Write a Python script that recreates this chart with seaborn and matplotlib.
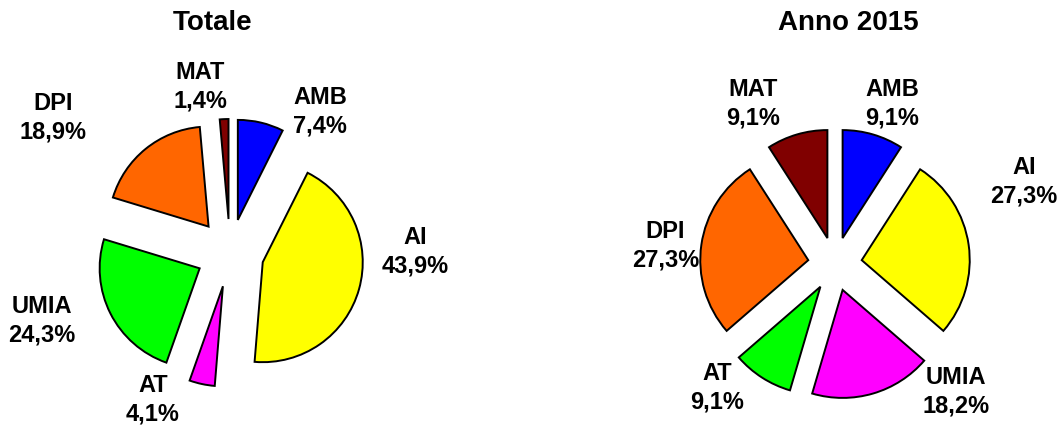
import matplotlib
matplotlib.use("Agg")
import matplotlib.pyplot as plt
import seaborn as sns

# dati
cat_totale = ["AMB", "AI", "AT", "UMIA", "DPI", "MAT"]
val_totale = [7.4, 43.9, 4.1, 24.3, 18.9, 1.4]

cat_2015 = ["AMB", "AI", "UMIA", "AT", "DPI", "MAT"]
val_2015 = [9.1, 27.3, 18.2, 9.1, 27.3, 9.1]

# colori per posizione (come nel foglio originale)
colori = sns.color_palette(["#0000FF", "#FFFF00", "#FF00FF", "#00FF00", "#FF6600", "#800000"])

# posizioni etichette (unita' = raggio)
pos_totale = [(0.90, 1.41), (1.85, 0.01), (-0.77, -1.47), (-1.88, -0.68), (-1.77, 1.35), (-0.30, 1.66)]
pos_2015 = [(0.53, 1.48), (1.75, 0.76), (1.12, -1.18), (-1.09, -1.15), (-1.57, 0.17), (-0.76, 1.48)]

sns.set_theme(style="white")
plt.rcParams["font.family"] = ["Liberation Sans", "DejaVu Sans"]
plt.rcParams["text.color"] = "black"

W, H = 1061, 429
fig = plt.figure(figsize=(W / 100, H / 100), dpi=100)


def torta(cx, cy, r, cat, val, pos, explode, titolo, tx):
    half = 1.5 * r
    ax = fig.add_axes([(cx - half) / W, (H - cy - half) / H, 2 * half / W, 2 * half / H])
    ax.pie(val, colors=colori, startangle=90, counterclock=False,
           explode=[explode] * len(val),
           wedgeprops={"edgecolor": "black", "linewidth": 1.4})
    ax.set_xlim(-1.5, 1.5)
    ax.set_ylim(-1.5, 1.5)
    ax.set_aspect("equal")
    ax.axis("off")
    for c, v, (x, y) in zip(cat, val, pos):
        testo = f"{c}\n{v:.1f}%".replace(".", ",")
        ax.text(x, y, testo, ha="center", va="center", fontsize=17,
                fontweight="bold", linespacing=1.3, clip_on=False, color="black")
    fig.text(tx / W, 1 - 23 / H, titolo, ha="center", va="center",
             fontsize=20, fontweight="bold", color="black")


torta(230, 253, 100, cat_totale, val_totale, pos_totale, 0.34, "Totale", 213)
torta(835, 264, 108, cat_2015, val_2015, pos_2015, 0.25, "Anno 2015", 848)

fig.savefig("out.png", dpi=100, facecolor="white")
